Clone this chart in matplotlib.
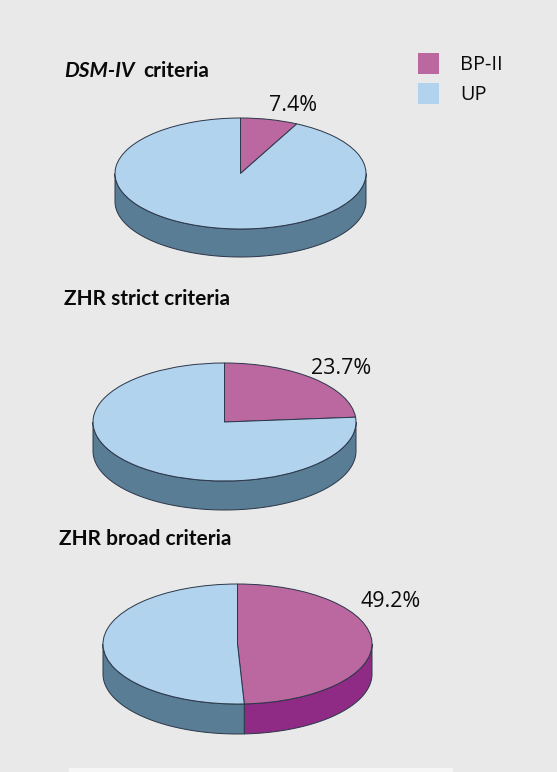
import numpy as np
import matplotlib
matplotlib.use("Agg")
import matplotlib.pyplot as plt
from matplotlib.patches import Rectangle

W, H = 557, 772
plain_font = ['Open Sans', 'DejaVu Sans']
bold_font = ['Lato', 'DejaVu Sans']
plt.rcParams['font.family'] = plain_font

# chart data
bp_ii = [7.4, 23.7, 49.2]
up = [92.6, 76.3, 50.8]
pct_labels = ["7.4%", "23.7%", "49.2%"]
titles = ["ZHR strict criteria", "ZHR broad criteria"]
legend_names = ["BP-II", "UP"]

# colours
bg = "#E8E9E8"
pink = "#BB67A0"
blue = "#B2D3EE"
teal = "#597D95"
purple = "#8F2B85"
edge = "#2B3648"
ink = "#0A0A0A"

# pie placement in pixels: centre x, centre y, rx, ry, depth
layout = [(240.5, 173.5, 125.5, 55.5, 28),
          (224.5, 422, 131.5, 59, 29),
          (237.5, 644, 134.5, 60, 30)]
label_pos = [(268.5, 111), (311.5, 374), (360.5, 607)]

fig = plt.figure(figsize=(W / 100, H / 100), dpi=100, facecolor=bg)
page = fig.add_axes([0, 0, 1, 1])
page.set_xlim(0, W)
page.set_ylim(H, 0)
page.axis('off')
# paler strip along the bottom
page.add_patch(Rectangle((69, 768), 384, 4, fc="#F6F6F6", ec="none"))


# front wall between two clockwise angles (deg from 12 o'clock)
def wall(ax, a0, a1, d, color):
    t = np.radians(np.linspace(a0, a1, 80))
    x, y = np.sin(t), np.cos(t)
    ax.fill(np.r_[x, x[::-1]], np.r_[y, y[::-1] - d], fc=color, ec=edge,
            lw=0.7, clip_on=False, zorder=1)


def draw_pie(vals, box):
    cx, cy, rx, ry, depth = box
    d = depth / ry
    ax = fig.add_axes([(cx - rx) / W, 1 - (cy + ry + depth) / H,
                       2 * rx / W, (2 * ry + depth) / H])
    ax.pie(vals, colors=[pink, blue], startangle=90, counterclock=False,
           wedgeprops={'edgecolor': edge, 'linewidth': 0.7, 'clip_on': False,
                       'zorder': 2})
    ax.set_aspect('auto')
    ax.set_xlim(-1, 1)
    ax.set_ylim(-1 - d, 1)
    ax.axis('off')
    split = vals[0] / sum(vals) * 360
    if split > 90:
        wall(ax, 90, split, d, purple)
        wall(ax, split, 270, d, teal)
    else:
        wall(ax, 90, 270, d, teal)


for i in range(3):
    draw_pie([bp_ii[i], up[i]], layout[i])
    page.text(label_pos[i][0], label_pos[i][1], pct_labels[i], fontsize=15.4,
              color=ink, va='baseline', ha='left', family=plain_font)

# panel headings
head = dict(fontsize=15, fontweight='bold', color=ink, va='baseline', family=bold_font)
page.text(64, 77, "DSM-IV", style='italic', **head)
page.text(143.5, 77, "criteria", **head)
page.text(64, 305, titles[0], **head)
page.text(59, 545, titles[1], **head)

# legend
page.add_patch(Rectangle((418, 52.5), 21, 21, fc=pink, ec="none"))
page.add_patch(Rectangle((418, 82.5), 21, 21, fc=blue, ec="none"))
page.text(460, 69.5, legend_names[0], fontsize=14.3, color=ink, va='baseline', family=plain_font)
page.text(460, 99.5, legend_names[1], fontsize=14.3, color=ink, va='baseline', family=plain_font)

fig.savefig("out.png", dpi=100, facecolor=bg)
